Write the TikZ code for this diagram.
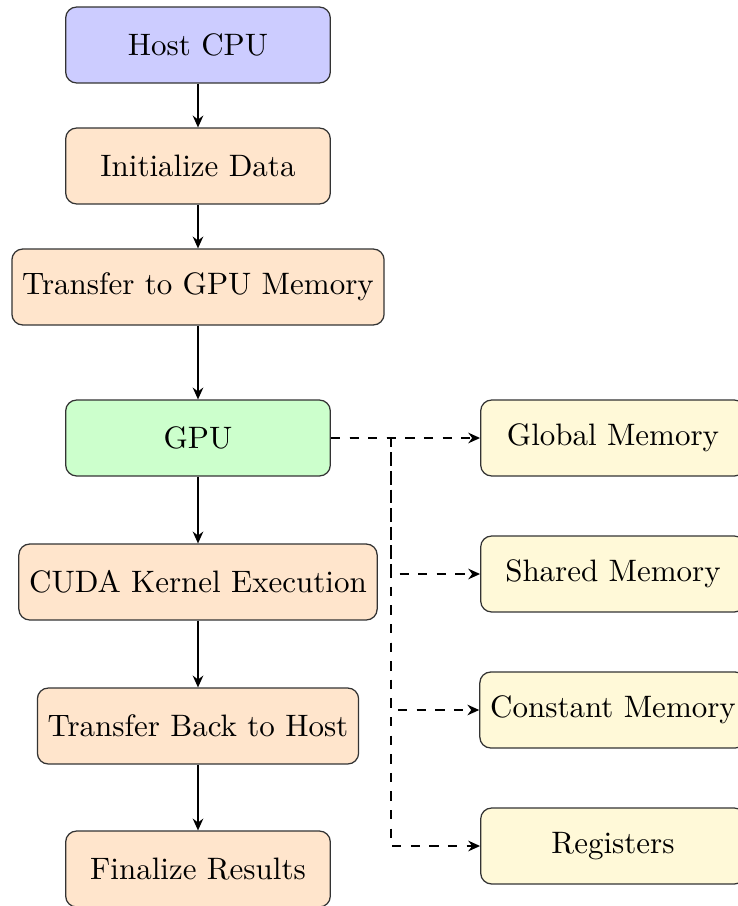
\documentclass[tikz,border=0pt]{standalone}
\usetikzlibrary{arrows.meta}
\definecolor{memfill}{RGB}{255,249,216}
\begin{document}
\begin{tikzpicture}[x=0.32258pt,y=-0.32258pt,
  box/.style={draw=black!80,rounded corners=3.5pt,minimum width=3cm,minimum height=24.5pt,inner sep=3.33pt,font=\normalsize},
  hostbox/.style={box,fill=blue!20},
  stepbox/.style={box,fill=orange!20},
  gpubox/.style={box,fill=green!20},
  membox/.style={box,fill=memfill},
  flow/.style={semithick,-{Stealth[length=3.8pt,width=3.4pt]}},
  memlink/.style={thick,dashed,-{Stealth[length=3.8pt,width=3.4pt]}}]
\useasboundingbox (0,0) rectangle (737,906);
\node[hostbox] (host) at (198,45) {Host CPU};
\node[stepbox] (init) at (198,166) {Initialize Data};
\node[stepbox] (toGPU) at (198,287) {Transfer to GPU Memory};
\node[gpubox] (gpu) at (198,438) {GPU};
\node[stepbox] (kernel) at (198,582) {CUDA Kernel Execution};
\node[stepbox] (back) at (198,726) {Transfer Back to Host};
\node[stepbox] (final) at (198,869) {Finalize Results};
\node[membox] (global) at (613,438) {Global Memory};
\node[membox] (shared) at (613,574) {Shared Memory};
\node[membox] (const) at (613,710) {Constant Memory};
\node[membox] (reg) at (613,846) {Registers};
\draw[flow] (host) -- (init);
\draw[flow] (init) -- (toGPU);
\draw[flow] (toGPU) -- (gpu);
\draw[flow] (gpu) -- (kernel);
\draw[flow] (kernel) -- (back);
\draw[flow] (back) -- (final);
\coordinate (split) at (391,438);
\draw[memlink] (gpu.east) -- (global.west);
\draw[memlink] (gpu.east) -- (split) |- (shared.west);
\draw[memlink] (split) |- (const.west);
\draw[memlink] (split) |- (reg.west);
\end{tikzpicture}
\end{document}
